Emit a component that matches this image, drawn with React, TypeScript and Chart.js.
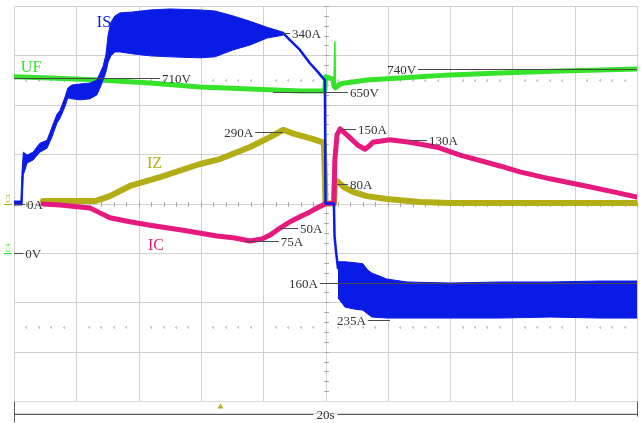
import React, { useEffect, useRef } from "react";
import { Chart, registerables } from "chart.js";

Chart.register(...registerables);

// ---------- screen grid: 10 x-divisions (2 s/div), 8 y-divisions ----------
const timeGrid = [0, 2, 4, 6, 8, 10, 12, 14, 16, 18, 20];
const divGrid = [-4, -3, -2, -1, 0, 1, 2, 3, 4];
const sweepLabel = "20s";
const triggerTime = 6.63;

// ---------- channel settings (units per division, offset in divisions) ----------
const channels: Record<string, { perDiv: number; offset: number; color: string; marker?: string }> = {
  IS: { perDiv: 100, offset: 0, color: "#0b1be6" },
  UF: { perDiv: 200, offset: -1, color: "#35e42a", marker: "C4" },
  IZ: { perDiv: 200, offset: 0, color: "#b3ad17", marker: "C3" },
  IC: { perDiv: 100, offset: 0, color: "#e6197f" },
};

// ---------- IS (A): envelope before switching ----------
const isBandATime = [0, 0.22, 0.26, 0.3, 0.42, 0.61, 0.83, 1.06, 1.22, 1.38, 1.48, 1.64, 1.73, 1.86, 2.12, 2.44, 2.66, 2.76, 2.86, 2.95, 3.02, 3.11, 3.24, 3.4, 3.82, 4.37, 5.01, 5.97, 6.45, 7.03, 7.58, 8.12, 8.64];
const isBandAUpper = [5, 5, 68, 104, 98, 104, 122, 128, 155, 181, 189, 216, 234, 240, 242, 244, 250, 264, 278, 301, 341, 367, 380, 386, 388, 392, 394, 392, 390, 380, 369, 357, 347];
const isBandALower = [-3, -3, -3, 58, 82, 88, 104, 112, 135, 163, 173, 197, 214, 212, 210, 212, 220, 234, 250, 266, 286, 299, 307, 307, 303, 299, 297, 295, 297, 311, 321, 335, 341];

// ---------- IS (A): fall and switching edge ----------
const isEdgeTime = [8.64, 8.86, 9.18, 9.5, 9.76, 9.92, 9.98, 10.0, 10.27, 10.29, 10.34, 10.4];
const isEdgeValue = [345, 331, 311, 284, 266, 254, 250, 0, 0, -66, -98, -131];

// ---------- IS (A): envelope after switching ----------
const isBandBTime = [10.4, 10.63, 10.95, 11.2, 11.36, 11.49, 11.97, 12.62, 14.0, 15.6, 17.21, 18.81, 20.0];
const isBandBUpper = [-118, -118, -120, -122, -135, -141, -153, -159, -161, -159, -159, -157, -157];
const isBandBLower = [-191, -210, -214, -216, -224, -230, -232, -232, -232, -232, -230, -232, -232];

// ---------- UF (V) ----------
const ufTime = [0, 1.16, 2.76, 4.37, 5.97, 7.58, 9.18, 9.92, 9.98, 10.0, 10.02, 10.24, 10.27, 10.3, 10.32, 10.47, 10.63, 11.33, 12.39, 13.03, 14.0, 15.6, 17.53, 18.81, 20.0];
const ufValue = [713, 708, 700, 688, 672, 664, 656, 656, 660, 713, 713, 704, 676, 854, 668, 684, 688, 700, 708, 713, 721, 729, 737, 741, 745];

// ---------- IZ (A) ----------
const izTime = [0.93, 2.6, 3.08, 3.72, 4.69, 5.97, 6.61, 7.58, 8.22, 8.64, 9.02, 9.5, 9.89, 9.95, 10.0, 10.27, 10.3, 10.37, 10.63, 10.88, 11.33, 11.97, 13.03, 14.0, 20.0];
const izValue = [10, 10, 30, 71, 107, 160, 180, 229, 269, 298, 281, 265, 249, 241, 0, 0, 87, 91, 63, 47, 30, 18, 6, 2, 2];

// ---------- IC (A) ----------
const icTime = [0.93, 1.48, 2.44, 2.76, 3.08, 3.72, 4.37, 5.43, 6.52, 7.09, 7.58, 7.96, 8.22, 8.44, 8.86, 9.18, 9.5, 9.73, 9.92, 10.0, 10.27, 10.3, 10.37, 10.47, 10.79, 11.04, 11.27, 11.43, 11.52, 12.07, 12.71, 13.58, 14.32, 15.6, 16.24, 17.21, 18.39, 19.13, 20.0];
const icValue = [-1, -3, -9, -19, -29, -37, -44, -54, -66, -70, -76, -72, -64, -54, -37, -27, -17, -9, -3, 0, 0, 88, 139, 151, 133, 118, 110, 118, 124, 129, 124, 114, 98, 76, 64, 50, 35, 25, 13];

// ---------- cursor read-outs: text, channel, value, leader line from/to (s), text side ----------
const readouts = [
  { text: "710V", ch: "UF", value: 710, from: 0, to: 4.69, side: "end" },
  { text: "340A", ch: "IS", value: 345, from: 8.64, to: 8.86, side: "end" },
  { text: "740V", ch: "UF", value: 745, from: 12.97, to: 20, side: "start" },
  { text: "650V", ch: "UF", value: 650, from: 8.32, to: 10.72, side: "end" },
  { text: "290A", ch: "IZ", value: 290, from: 7.74, to: 8.64, side: "start" },
  { text: "150A", ch: "IC", value: 150, from: 10.53, to: 10.98, side: "end" },
  { text: "130A", ch: "IC", value: 129, from: 12.71, to: 13.26, side: "end" },
  { text: "80A", ch: "IZ", value: 80, from: 10.37, to: 10.72, side: "end" },
  { text: "0A", ch: "IZ", value: 0, from: 0, to: 0.35, side: "end" },
  { text: "0V", ch: "UF", value: 0, from: 0, to: 0.3, side: "end" },
  { text: "50A", ch: "IC", value: -50, from: 8.54, to: 9.12, side: "end" },
  { text: "75A", ch: "IC", value: -75, from: 7.42, to: 8.5, side: "end" },
  { text: "160A", ch: "IS", value: -160, from: 9.82, to: 20, side: "start" },
  { text: "235A", ch: "IS", value: -235, from: 11.36, to: 12.07, side: "start" },
];

// ---------- trace names ----------
const traceNames = [
  { text: "IS", ch: "IS", t: 2.66, value: 365 },
  { text: "UF", ch: "UF", t: 0.22, value: 749 },
  { text: "IZ", ch: "IZ", t: 4.27, value: 160 },
  { text: "IC", ch: "IC", t: 4.3, value: -86 },
];

const toDiv = (ch: string, v: number) => channels[ch].offset + v / channels[ch].perDiv;
const toXY = (times: number[], values: number[], ch: string) =>
  times.map((t, i) => ({ x: t, y: toDiv(ch, values[i]) }));

const SERIF = '"Liberation Serif", "Times New Roman", serif';

const scopePlugin = {
  id: "scope",
  beforeDatasetsDraw(chart: any) {
    const { ctx } = chart;
    const xs = chart.scales.x;
    const ys = chart.scales.y;
    const px = (t: number) => Math.round(xs.getPixelForValue(t)) + 0.5;
    const py = (d: number) => Math.round(ys.getPixelForValue(d)) + 0.5;
    ctx.save();
    ctx.lineWidth = 1;
    ctx.strokeStyle = "#d0d0d0";
    ctx.beginPath();
    timeGrid.forEach((t) => {
      ctx.moveTo(px(t), py(4));
      ctx.lineTo(px(t), py(-4));
    });
    divGrid.forEach((d) => {
      ctx.moveTo(px(0), py(d));
      ctx.lineTo(px(20), py(d));
    });
    ctx.stroke();
    // centre-line minor ticks
    ctx.strokeStyle = "#a9a9a9";
    ctx.beginPath();
    for (let k = 0; k <= 50; k++) {
      const x = px(k * 0.4);
      const y = py(0);
      ctx.moveTo(x, y - 2.5);
      ctx.lineTo(x, y + 2.5);
    }
    for (let k = 0; k <= 40; k++) {
      const x = px(10);
      const y = py(-4 + k * 0.2);
      ctx.moveTo(x - 2.5, y);
      ctx.lineTo(x + 2.5, y);
    }
    ctx.stroke();
    // dotted rows
    ctx.fillStyle = "#c4c4c4";
    [-2.5, 2.5].forEach((d) => {
      for (let k = 1; k < 50; k++) {
        if (k % 5 === 0) continue;
        const x = Math.round(xs.getPixelForValue(k * 0.4));
        const y = Math.round(ys.getPixelForValue(d));
        ctx.fillRect(x - 1, y, 2, 1);
        ctx.fillRect(x, y - 1, 1, 3);
      }
    });
    ctx.restore();
  },
  afterDatasetsDraw(chart: any) {
    const { ctx, chartArea: a } = chart;
    const xs = chart.scales.x;
    const ys = chart.scales.y;
    ctx.save();
    // read-outs
    ctx.font = `13px ${SERIF}`;
    ctx.textBaseline = "middle";
    readouts.forEach((r) => {
      const y = Math.round(ys.getPixelForValue(toDiv(r.ch, r.value))) + 0.5;
      const x0 = xs.getPixelForValue(r.from);
      const x1 = xs.getPixelForValue(r.to);
      ctx.strokeStyle = "#4a4a4a";
      ctx.lineWidth = 1;
      ctx.beginPath();
      ctx.moveTo(x0, y);
      ctx.lineTo(x1, y);
      ctx.stroke();
      ctx.fillStyle = "#333";
      if (r.side === "end") {
        ctx.textAlign = "left";
        ctx.fillText(r.text, x1 + 2, y + 1);
      } else {
        ctx.textAlign = "right";
        ctx.fillText(r.text, x0 - 2, y + 1);
      }
    });
    // trace names
    ctx.font = `16px ${SERIF}`;
    ctx.textAlign = "left";
    traceNames.forEach((n) => {
      ctx.fillStyle = channels[n.ch].color;
      ctx.fillText(n.text, xs.getPixelForValue(n.t), ys.getPixelForValue(toDiv(n.ch, n.value)));
    });
    // channel ground markers at the left edge
    Object.keys(channels).forEach((k) => {
      const c = channels[k];
      if (!c.marker) return;
      const y = ys.getPixelForValue(c.offset);
      ctx.save();
      ctx.translate(8, y - 5);
      ctx.rotate(-Math.PI / 2);
      ctx.font = `7px ${SERIF}`;
      ctx.fillStyle = c.color;
      ctx.textAlign = "center";
      ctx.fillText(c.marker, 0, 0);
      ctx.restore();
      ctx.fillStyle = c.color;
      ctx.fillRect(4, Math.round(y), 8, 1);
    });
    // bottom bar
    const left = Math.round(xs.getPixelForValue(0)) + 0.5;
    const right = Math.round(xs.getPixelForValue(20)) + 0.5;
    const mid = xs.getPixelForValue(10);
    const b = Math.round(a.bottom) + 0.5;
    ctx.strokeStyle = "#d9d9d9";
    ctx.strokeRect(left, b, right - left, 12);
    ctx.strokeStyle = "#5a5a5a";
    ctx.beginPath();
    ctx.moveTo(left, b);
    ctx.lineTo(left, b + 21);
    ctx.moveTo(right, b);
    ctx.lineTo(right, b + 15);
    ctx.moveTo(left, b + 13);
    ctx.lineTo(mid - 12, b + 13);
    ctx.moveTo(mid + 12, b + 13);
    ctx.lineTo(right, b + 13);
    ctx.stroke();
    ctx.font = `13px ${SERIF}`;
    ctx.fillStyle = "#333";
    ctx.textAlign = "center";
    ctx.fillText(sweepLabel, mid, b + 14);
    // trigger marker
    const tx = xs.getPixelForValue(triggerTime);
    ctx.fillStyle = channels.IZ.color;
    ctx.beginPath();
    ctx.moveTo(tx, b + 2);
    ctx.lineTo(tx - 3, b + 7);
    ctx.lineTo(tx + 3, b + 7);
    ctx.closePath();
    ctx.fill();
    ctx.restore();
  },
};

export default function App() {
  const ref = useRef<HTMLCanvasElement | null>(null);
  useEffect(() => {
    if (!ref.current) return;
    const line = (data: any[], color: string, width: number, order: number, extra: any = {}) => ({
      data,
      borderColor: color,
      backgroundColor: color,
      borderWidth: width,
      pointRadius: 0,
      tension: 0,
      fill: false,
      order,
      borderJoinStyle: "round",
      borderCapStyle: "round",
      ...extra,
    });
    const chart = new Chart(ref.current, {
      type: "line",
      data: {
        datasets: [
          line(toXY(ufTime, ufValue, "UF"), channels.UF.color, 5, 6, {
            segment: {
              borderWidth: (c: any) => (c.p0.parsed.x >= 10.26 && c.p1.parsed.x <= 10.33 ? 1.5 : undefined),
            },
          }),
          line(toXY(izTime, izValue, "IZ"), channels.IZ.color, 6, 5),
          line(toXY(icTime, icValue, "IC"), channels.IC.color, 5, 4),
          line(toXY(isBandATime, isBandAUpper, "IS"), channels.IS.color, 1, 3, { fill: "+1" }),
          line(toXY(isBandATime, isBandALower, "IS"), channels.IS.color, 1, 3),
          line(toXY(isEdgeTime, isEdgeValue, "IS"), channels.IS.color, 2.5, 2),
          line(toXY(isBandBTime, isBandBUpper, "IS"), channels.IS.color, 1, 1, { fill: "+1" }),
          line(toXY(isBandBTime, isBandBLower, "IS"), channels.IS.color, 1, 1),
        ],
      },
      options: {
        responsive: false,
        animation: false,
        devicePixelRatio: 1,
        events: [],
        layout: { padding: { left: 14, right: 5, top: 6, bottom: 22 } },
        plugins: { legend: { display: false }, tooltip: { enabled: false }, title: { display: false } },
        scales: {
          x: { type: "linear", min: 0, max: 20, display: false },
          y: { type: "linear", min: -4, max: 4, display: false },
        },
      },
      plugins: [scopePlugin],
    } as any);
    return () => chart.destroy();
  }, []);
  return (
    <div style={{ position: "absolute", left: 0, top: 0, width: 642, height: 423, background: "#fff" }}>
      <canvas ref={ref} width={642} height={423} />
    </div>
  );
}
